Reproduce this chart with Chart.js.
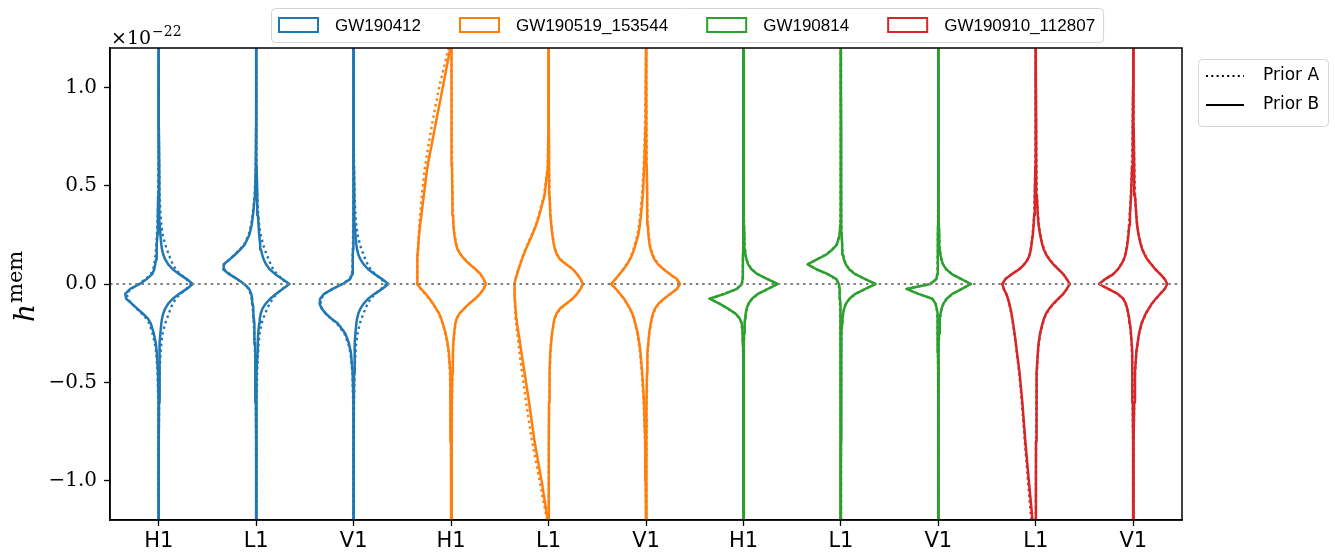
<!DOCTYPE html>
<html>
<head>
<meta charset="utf-8">
<script src="https://cdn.jsdelivr.net/npm/chart.js@4.4.1/dist/chart.umd.min.js"></script>
<style>
  html, body { margin: 0; background: #fff; }
  #wrap { width: 1335px; height: 555px; }
</style>
</head>
<body>
<div id="wrap"><canvas id="memChart"></canvas></div>
<script>
// h^mem sample points (units of 1e-22) shared by every half-violin
var hGrid = [-1.2, -1.0, -0.8, -0.6, -0.45, -0.35, -0.3, -0.25, -0.2, -0.175, -0.15, -0.125, -0.1, -0.075, -0.05, -0.025,
  0, 0.025, 0.05, 0.075, 0.1, 0.125, 0.15, 0.175, 0.2, 0.25, 0.3, 0.35, 0.45, 0.6, 0.8, 1.0, 1.2];

var events = ['GW190412', 'GW190519_153544', 'GW190814', 'GW190910_112807'];
var eventColors = ['#1f77b4', '#ff7f0e', '#2ca02c', '#d62728'];
var detectors = ['H1', 'L1', 'V1', 'H1', 'L1', 'V1', 'H1', 'L1', 'V1', 'L1', 'V1'];
var violinEvent = [0, 0, 0, 1, 1, 1, 2, 2, 2, 3, 3];
var yTicks = [-1.0, -0.5, 0.0, 0.5, 1.0];

// density (half width), one row per detector slot
var leftPriorB = [
  [0, 0, 0.1, 0.4, 0.8, 1.8, 3, 5, 8, 11, 16, 21.5, 27, 32.5, 33.5, 28.5, 19, 12, 6.5, 4.5, 3.5, 2.7, 2.3, 2, 1.8, 1.3, 1, 0.8, 0.5, 0.2, 0.1, 0, 0],
  [0, 0, 0.1, 0.3, 0.7, 1, 1.2, 1.6, 2, 2.3, 2.6, 3, 3.5, 4, 5, 7, 12, 19, 27, 33, 32.5, 26.5, 21, 16, 11.5, 6.8, 4.5, 3.2, 1.2, 0.4, 0.1, 0, 0],
  [0, 0, 0.1, 0.4, 1, 2.7, 4.8, 8.5, 16, 22.5, 28, 32, 34, 33.5, 29.5, 21, 11, 3.5, 1.5, 1.1, 0.9, 0.8, 0.7, 0.6, 0.6, 0.5, 0.4, 0.3, 0.2, 0.1, 0, 0, 0],
  [0, 0, 0.1, 0.4, 1, 2.2, 3.5, 5.5, 8.3, 10, 12, 15, 18, 21.5, 25.5, 30, 34, 34, 34, 33.8, 33.7, 33.5, 33.3, 33, 32.8, 32, 31, 29.7, 27.3, 23.5, 16, 8.3, 0.7],
  [0.8, 7, 14, 19.5, 24, 27, 28.5, 30, 31.5, 32, 32.5, 33, 33.3, 33.6, 34, 34, 34, 33, 31.5, 30, 28.3, 26.7, 24.8, 22.8, 20.7, 16.3, 12.3, 9.3, 4, 0.6, 0.2, 0.1, 0],
  [0, 0.3, 0.8, 2, 3.8, 5.5, 6.7, 8.3, 10.7, 12, 13.7, 16, 19, 22, 26, 30, 35, 30.5, 26.5, 22.5, 19, 16, 13.8, 12, 10.5, 7.7, 6.2, 5, 3.2, 1.7, 0.6, 0.2, 0],
  [0, 0, 0.1, 0.2, 0.3, 0.4, 0.5, 0.8, 1.7, 3.7, 8, 15.5, 24, 34, 19, 6.5, 1.5, 0.9, 0.7, 0.6, 0.5, 0.5, 0.4, 0.4, 0.4, 0.3, 0.3, 0.2, 0.2, 0.1, 0, 0, 0],
  [0, 0, 0.1, 0.2, 0.3, 0.4, 0.4, 0.5, 0.6, 0.6, 0.7, 0.8, 0.9, 1, 1.1, 1.4, 2, 4.5, 13, 24.5, 33.3, 24, 14.5, 8.5, 4, 1.2, 0.6, 0.4, 0.3, 0.2, 0.1, 0, 0],
  [0, 0, 0.1, 0.2, 0.3, 0.4, 0.5, 0.6, 0.8, 0.9, 1.1, 1.6, 2.8, 6, 20, 32, 8, 2, 1.1, 0.8, 0.7, 0.6, 0.5, 0.5, 0.4, 0.4, 0.3, 0.3, 0.2, 0.1, 0, 0, 0],
  [3.3, 7, 10.5, 13.5, 16.3, 18.8, 20, 21.3, 22.7, 23.5, 24.3, 25.3, 26.5, 27.8, 29.5, 32, 33.5, 30.5, 24, 16.5, 11.5, 8, 6, 5, 4.3, 3, 2.2, 1.6, 1, 0.5, 0.2, 0.1, 0],
  [0, 0.1, 0.2, 0.5, 0.8, 1.2, 1.6, 2.3, 3.3, 4, 5, 6, 7.5, 10, 15.5, 25, 34.3, 28, 20, 15.3, 12, 9.3, 7.8, 6.8, 6, 4.8, 4, 3.3, 2.2, 1.2, 0.5, 0.2, 0]
];
var leftPriorA = [
  [0, 0, 0.1, 0.5, 1.1, 2.5, 4, 6.3, 9.5, 12.5, 17, 22, 27, 31, 32, 28, 20, 13, 8, 5.5, 4.5, 3.7, 3.2, 2.8, 2.4, 1.8, 1.3, 1, 0.6, 0.3, 0.1, 0, 0],
  [0, 0, 0.1, 0.4, 0.8, 1.2, 1.5, 1.9, 2.5, 2.8, 3.1, 3.5, 4, 4.6, 5.6, 7.6, 12.5, 19, 26.5, 32, 32, 26.5, 21.3, 16.5, 12.2, 7.5, 5, 3.6, 1.5, 0.5, 0.1, 0, 0],
  [0, 0, 0.1, 0.5, 1.2, 3.2, 5.5, 9.5, 17, 23, 28, 31.5, 33, 32.5, 29, 21, 11.5, 4, 1.8, 1.3, 1.1, 1, 0.9, 0.8, 0.7, 0.6, 0.5, 0.4, 0.3, 0.1, 0, 0, 0],
  [0, 0, 0.1, 0.5, 1.2, 2.5, 3.8, 5.8, 8.6, 10.3, 12.3, 15.3, 18.3, 22, 26, 30.3, 34, 34, 34, 33.9, 33.8, 33.6, 33.4, 33.2, 33, 32.4, 31.8, 31, 29.3, 26, 19.5, 12, 2.5],
  [1.5, 9, 16.5, 22.5, 26.5, 29, 30, 31.3, 32.5, 33, 33.3, 33.5, 33.6, 33.8, 34, 34, 34, 33, 31.7, 30.3, 28.7, 27, 25.2, 23.3, 21.2, 16.8, 12.8, 9.8, 4.5, 0.8, 0.3, 0.1, 0],
  [0, 0.4, 1, 2.4, 4.2, 6, 7.2, 8.8, 11, 12.3, 14, 16.3, 19.2, 22.2, 26, 30, 34.5, 30.5, 26.6, 22.8, 19.4, 16.5, 14.4, 12.7, 11.3, 8.7, 7, 5.8, 4, 2.3, 1, 0.4, 0],
  [0, 0, 0.1, 0.2, 0.3, 0.4, 0.6, 0.9, 1.9, 4, 8.3, 15.7, 24, 33.3, 19.3, 7, 1.7, 1, 0.8, 0.7, 0.6, 0.5, 0.5, 0.4, 0.4, 0.3, 0.3, 0.2, 0.2, 0.1, 0, 0, 0],
  [0, 0, 0.1, 0.2, 0.3, 0.4, 0.5, 0.6, 0.7, 0.7, 0.8, 0.9, 1, 1.1, 1.3, 1.6, 2.3, 5, 13.5, 24.5, 32.7, 24, 14.8, 8.8, 4.4, 1.4, 0.7, 0.5, 0.3, 0.2, 0.1, 0, 0],
  [0, 0, 0.1, 0.2, 0.3, 0.4, 0.5, 0.7, 0.9, 1, 1.2, 1.8, 3, 6.3, 20, 31.3, 8.5, 2.2, 1.2, 0.9, 0.8, 0.7, 0.6, 0.5, 0.5, 0.4, 0.3, 0.3, 0.2, 0.1, 0, 0, 0],
  [4.5, 7.8, 11, 14, 16.6, 19, 20.2, 21.5, 22.9, 23.7, 24.5, 25.5, 26.7, 28, 29.6, 32, 33.3, 30.5, 24.2, 16.8, 11.8, 8.3, 6.3, 5.2, 4.5, 3.2, 2.3, 1.7, 1.1, 0.5, 0.2, 0.1, 0],
  [0, 0.1, 0.2, 0.6, 0.9, 1.3, 1.7, 2.5, 3.5, 4.2, 5.2, 6.2, 7.7, 10.2, 15.7, 25, 34, 28, 20.2, 15.6, 12.3, 9.6, 8.1, 7.1, 6.3, 5.1, 4.3, 3.6, 2.4, 1.3, 0.6, 0.2, 0]
];
var rightPriorB = [
  [0, 0, 0.1, 0.3, 0.5, 0.9, 1.2, 1.7, 2.6, 3.3, 4.5, 6.5, 9.5, 14, 20.5, 28, 34, 28, 20.5, 14, 9.5, 6.5, 4.5, 3.3, 2.6, 1.7, 1.2, 0.9, 0.5, 0.3, 0.1, 0, 0],
  [0, 0, 0.1, 0.4, 0.8, 1.3, 1.6, 2, 3, 3.6, 4.6, 6.3, 9.5, 14, 20, 26.5, 33.3, 26, 19, 13.5, 9.8, 7.5, 6, 4.8, 4, 3, 2.3, 1.8, 1.1, 0.4, 0.1, 0, 0],
  [0, 0, 0.1, 0.3, 0.5, 0.9, 1.2, 1.8, 2.7, 3.5, 4.7, 6.8, 10, 14.5, 21, 28.5, 34.6, 28.5, 21, 14.5, 10, 6.8, 4.7, 3.5, 2.7, 1.8, 1.2, 0.9, 0.5, 0.3, 0.1, 0, 0],
  [0.3, 0.4, 0.6, 0.9, 1.3, 1.8, 2.2, 3, 4.3, 5.6, 8.3, 13, 18, 24, 29, 32.5, 35, 32.5, 29.5, 24.5, 18.5, 13.5, 9.5, 6.5, 5, 3.2, 2.3, 1.9, 1.3, 0.9, 0.6, 0.4, 0.3],
  [0.1, 0.2, 0.3, 0.5, 1, 1.7, 2.5, 3.5, 5, 6, 8, 11.5, 17.5, 24, 28.5, 32, 34.4, 32, 28.5, 24.3, 17.5, 11.5, 8.3, 6.5, 5.3, 3.8, 2.7, 1.8, 1, 0.5, 0.3, 0.2, 0.1],
  [0.2, 0.3, 0.4, 0.7, 1, 1.4, 2.3, 3.2, 4.7, 5.7, 7, 9, 12.5, 18, 24.5, 31, 34, 31, 24, 17.5, 12, 8.5, 6.3, 4.7, 3.6, 2.4, 1.8, 1.4, 1, 0.7, 0.4, 0.3, 0.2],
  [0, 0, 0.1, 0.2, 0.3, 0.4, 0.5, 0.7, 1.2, 1.6, 2.2, 3.2, 5, 8.5, 14.5, 24.5, 34.3, 24, 14, 8, 4.7, 3, 2, 1.5, 1.1, 0.7, 0.5, 0.4, 0.3, 0.2, 0.1, 0, 0],
  [0, 0, 0.1, 0.2, 0.3, 0.4, 0.5, 0.7, 1.2, 1.6, 2.2, 3.2, 5, 8.5, 14.5, 24.5, 34.7, 24.3, 14.3, 8.2, 4.8, 3, 2, 1.5, 1.1, 0.7, 0.5, 0.4, 0.3, 0.2, 0.1, 0, 0],
  [0, 0, 0.1, 0.2, 0.3, 0.4, 0.5, 0.7, 1.2, 1.6, 2.2, 3.2, 5, 8.3, 14, 23.5, 32.7, 23, 13.5, 7.8, 4.6, 3, 2, 1.5, 1.1, 0.7, 0.5, 0.4, 0.3, 0.2, 0.1, 0, 0],
  [0, 0.1, 0.2, 0.5, 1, 2, 2.8, 4.3, 6.7, 8.2, 10.3, 13.5, 17.5, 22.5, 27.5, 31, 34, 31, 27.5, 22.5, 17.5, 13.5, 10.3, 8, 6.5, 4.3, 2.8, 2, 1, 0.5, 0.2, 0.1, 0],
  [0.1, 0.2, 0.4, 0.9, 1.7, 3, 4.3, 5.8, 8.3, 10.3, 12.5, 15.5, 18.5, 22.5, 27, 31.5, 34, 31.5, 27, 22, 18, 14, 11.3, 9, 7.5, 5.3, 3.8, 3, 1.7, 0.9, 0.4, 0.2, 0.1]
];
var rightPriorA = [
  [0, 0, 0.1, 0.4, 0.9, 1.8, 2.6, 4, 6.5, 8.3, 10, 12, 14, 17, 21.5, 27.5, 32, 27.5, 21.5, 17, 14, 12, 10, 8.3, 6.5, 4, 2.6, 1.8, 0.9, 0.4, 0.1, 0, 0],
  [0, 0, 0.1, 0.5, 1, 1.8, 2.5, 3.5, 5.5, 7, 9, 11, 13.5, 16.5, 20.5, 26, 32, 26, 21, 17, 14.5, 12.5, 10.5, 8.5, 7, 4.5, 3, 2, 1, 0.4, 0.1, 0, 0],
  [0, 0, 0.1, 0.4, 0.9, 1.8, 2.6, 4, 6.3, 8, 9.8, 11.8, 14, 17, 21.5, 27.5, 32.5, 27.5, 21.5, 17, 14, 11.8, 9.8, 8, 6.3, 4, 2.6, 1.8, 0.9, 0.4, 0.1, 0, 0],
  [0.3, 0.5, 0.7, 1, 1.4, 2, 2.4, 3.3, 4.6, 6, 8.5, 13.3, 18.3, 24.2, 29, 32.5, 34.5, 32.5, 29.5, 24.5, 18.8, 14, 10, 7, 5.4, 3.5, 2.5, 2, 1.4, 1, 0.7, 0.5, 0.3],
  [0.1, 0.2, 0.3, 0.6, 1.1, 1.8, 2.6, 3.7, 5.3, 6.3, 8.4, 12, 18, 24.3, 28.7, 32, 34, 32, 28.7, 24.5, 18, 12, 8.7, 6.8, 5.6, 4, 2.9, 2, 1.1, 0.6, 0.3, 0.2, 0.1],
  [0.2, 0.3, 0.5, 0.8, 1.1, 1.6, 2.5, 3.4, 5, 6, 7.4, 9.5, 13, 18.3, 24.5, 30.5, 33.5, 30.5, 24.3, 18, 12.5, 9, 6.8, 5.2, 4, 2.7, 2, 1.5, 1.1, 0.8, 0.5, 0.3, 0.2],
  [0, 0, 0.1, 0.2, 0.3, 0.4, 0.5, 0.8, 1.3, 1.7, 2.3, 3.3, 5.2, 8.7, 14.6, 24.5, 34, 24, 14.2, 8.2, 4.9, 3.1, 2.1, 1.6, 1.2, 0.8, 0.6, 0.4, 0.3, 0.2, 0.1, 0, 0],
  [0, 0, 0.1, 0.2, 0.3, 0.4, 0.5, 0.8, 1.3, 1.7, 2.3, 3.3, 5.2, 8.7, 14.6, 24.5, 34.3, 24.3, 14.5, 8.4, 5, 3.1, 2.1, 1.6, 1.2, 0.8, 0.6, 0.4, 0.3, 0.2, 0.1, 0, 0],
  [0, 0, 0.1, 0.2, 0.3, 0.4, 0.5, 0.8, 1.3, 1.7, 2.3, 3.3, 5.2, 8.5, 14.2, 23.5, 32.3, 23, 13.7, 8, 4.8, 3.1, 2.1, 1.6, 1.2, 0.8, 0.6, 0.4, 0.3, 0.2, 0.1, 0, 0],
  [0, 0.1, 0.2, 0.6, 1.1, 2.1, 3, 4.5, 7, 8.5, 10.6, 13.8, 17.8, 22.7, 27.5, 31, 33.7, 31, 27.5, 22.7, 17.8, 13.8, 10.6, 8.3, 6.8, 4.5, 3, 2.1, 1.1, 0.6, 0.2, 0.1, 0],
  [0.1, 0.2, 0.4, 1, 1.8, 3.1, 4.4, 6, 8.5, 10.5, 12.7, 15.7, 18.7, 22.7, 27, 31.3, 33.7, 31.3, 27, 22.2, 18.2, 14.2, 11.5, 9.3, 7.8, 5.5, 4, 3.1, 1.8, 1, 0.4, 0.2, 0.1]
];

var slotPerUnit = 1 / 97.45;  // density unit -> fraction of a detector slot
var dotted = [2.4, 3.4];

function halfViolin(pos, widths, sign) {
  return hGrid.map(function (h, k) {
    return { x: pos + sign * widths[k] * slotPerUnit, y: h };
  });
}

var datasets = [];
detectors.forEach(function (det, i) {
  var col = eventColors[violinEvent[i]];
  [[leftPriorA, -1, true], [rightPriorA, 1, true], [leftPriorB, -1, false], [rightPriorB, 1, false]].forEach(function (s) {
    datasets.push({
      label: events[violinEvent[i]] + ' ' + det,
      data: halfViolin(i, s[0][i], s[1]),
      showLine: true,
      borderColor: col,
      borderWidth: s[2] ? 2.4 : 2.5,
      borderDash: s[2] ? dotted : [],
      borderJoinStyle: 'round',
      pointRadius: 0,
      fill: false,
      tension: 0,
      order: s[2] ? 2 : 1
    });
  });
});
datasets.push({
  label: 'zero',
  data: [{ x: -0.5, y: 0 }, { x: detectors.length - 0.5, y: 0 }],
  showLine: true,
  borderColor: '#808080',
  borderWidth: 2.2,
  borderDash: [2.5, 3.8],
  pointRadius: 0,
  order: 0
});

var decorations = {
  id: 'decorations',
  afterDraw: function (chart) {
    var ctx = chart.ctx, a = chart.chartArea;
    ctx.save();
    // axes frame
    ctx.strokeStyle = '#000';
    ctx.lineWidth = 1.5;
    ctx.strokeRect(a.left, a.top, a.right - a.left, a.bottom - a.top);

    // offset text
    ctx.fillStyle = '#000';
    ctx.textBaseline = 'alphabetic';
    ctx.font = '19px "DejaVu Serif"';
    ctx.fillText('×10', 111, 44);
    var w10 = ctx.measureText('×10').width;
    ctx.font = '14px "DejaVu Serif"';
    ctx.fillText('−22', 111 + w10 + 1, 36);

    // y title
    ctx.save();
    ctx.translate(30, (a.top + a.bottom) / 2);
    ctx.rotate(-Math.PI / 2);
    ctx.font = 'italic 28px "DejaVu Serif"';
    ctx.fillText('h', -38, 4);
    var wh = ctx.measureText('h').width;
    ctx.font = '21px "DejaVu Serif"';
    ctx.fillText('mem', -38 + wh + 1, -8);
    ctx.restore();

    // top legend (events)
    ctx.font = '17px "Liberation Sans"';
    ctx.textBaseline = 'middle';
    var x = 279, boxW = 39, boxH = 14, midY = 25;
    events.forEach(function (ev, k) {
      ctx.fillStyle = '#fff';
      ctx.fillRect(x, midY - boxH / 2, boxW, boxH);
      ctx.strokeStyle = eventColors[k];
      ctx.lineWidth = 2;
      ctx.strokeRect(x, midY - boxH / 2, boxW, boxH);
      ctx.fillStyle = '#000';
      ctx.fillText(ev, x + boxW + 17, midY + 1);
      x += boxW + 17 + ctx.measureText(ev).width + 39;
    });
    var frameRight = x - 39 + 8;
    ctx.strokeStyle = '#d4d4d4';
    ctx.lineWidth = 1;
    ctx.beginPath();
    ctx.roundRect(271.5, 8.5, frameRight - 271, 34, 4);
    ctx.stroke();

    // right legend (priors)
    ctx.beginPath();
    ctx.roundRect(1198.5, 59.5, 130, 67, 4);
    ctx.stroke();
    ctx.strokeStyle = '#000';
    ctx.lineWidth = 2;
    ctx.setLineDash([2, 3.3]);
    ctx.beginPath(); ctx.moveTo(1206, 76); ctx.lineTo(1244, 76); ctx.stroke();
    ctx.setLineDash([]);
    ctx.beginPath(); ctx.moveTo(1206, 105); ctx.lineTo(1244, 105); ctx.stroke();
    ctx.font = '17px "DejaVu Sans"';
    ctx.fillStyle = '#000';
    ctx.fillText('Prior A', 1263, 76);
    ctx.fillText('Prior B', 1263, 105);
    ctx.restore();
  }
};

new Chart(document.getElementById('memChart'), {
  type: 'scatter',
  data: { datasets: datasets },
  options: {
    responsive: true,
    maintainAspectRatio: false,
    animation: false,
    layout: { padding: { top: 48, right: 153, left: 0, bottom: 0 } },
    plugins: { legend: { display: false }, tooltip: { enabled: false } },
    scales: {
      x: {
        type: 'linear',
        min: -0.5,
        max: detectors.length - 0.5,
        afterBuildTicks: function (axis) {
          axis.ticks = detectors.map(function (d, i) { return { value: i }; });
        },
        afterFit: function (axis) { axis.height = 35; },
        ticks: {
          color: '#000',
          padding: 3,
          font: { family: 'DejaVu Sans', size: 21 },
          callback: function (v) { return detectors[v]; }
        },
        grid: { drawOnChartArea: false, drawTicks: true, tickLength: 6, tickColor: '#000', tickWidth: 1.3 },
        border: { display: true, color: '#000', width: 1.5 }
      },
      y: {
        min: -1.2,
        max: 1.2,
        afterBuildTicks: function (axis) {
          axis.ticks = yTicks.map(function (v) { return { value: v }; });
        },
        afterFit: function (axis) { axis.width = 110; },
        ticks: {
          color: '#000',
          padding: 7,
          font: { family: 'DejaVu Serif', size: 20 },
          callback: function (v) { return (v < 0 ? '−' : '') + Math.abs(v).toFixed(1); }
        },
        grid: { drawOnChartArea: false, drawTicks: true, tickLength: 6, tickColor: '#000', tickWidth: 1.3 },
        border: { display: true, color: '#000', width: 1.5 }
      }
    }
  },
  plugins: [decorations]
});
</script>
</body>
</html>
